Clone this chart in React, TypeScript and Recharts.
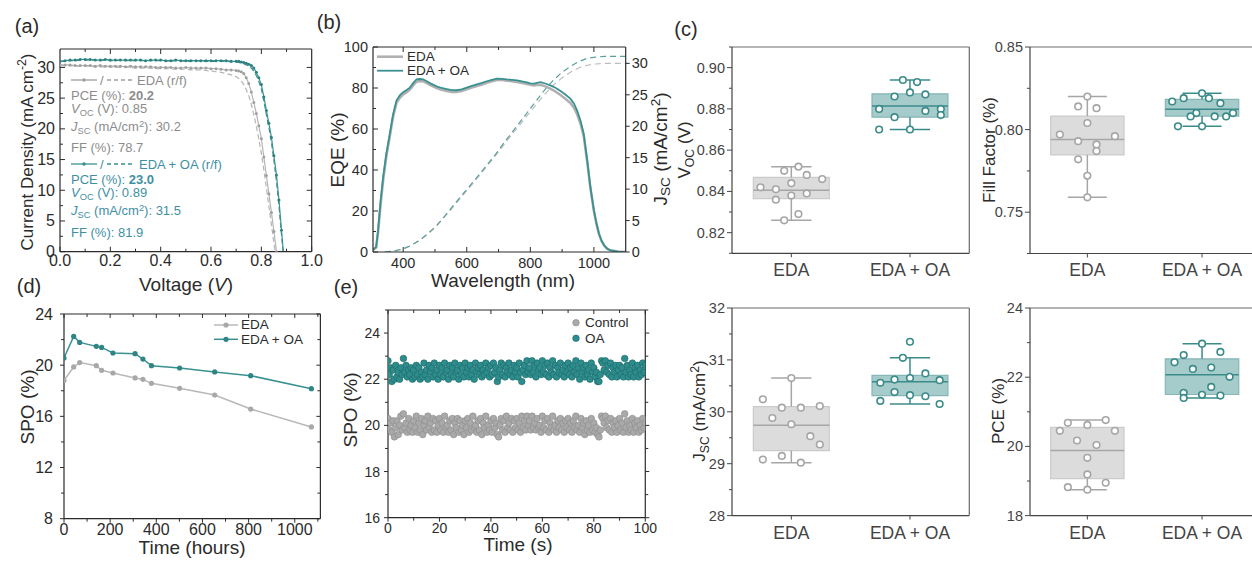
import React from "react";
import {
  LineChart,
  Line,
  ScatterChart,
  Scatter,
  XAxis,
  YAxis,
  ReferenceArea,
  ReferenceLine,
} from "recharts";

// ---------- (a) J-V curves ----------
const vGrid = [
  0, 0.02, 0.04, 0.06, 0.08, 0.1, 0.12, 0.14, 0.16, 0.18, 0.2, 0.22, 0.24, 0.26, 0.28, 0.3, 0.32, 0.34, 0.36, 0.38,
  0.4, 0.42, 0.44, 0.46, 0.48, 0.5, 0.52, 0.54, 0.56, 0.58, 0.6, 0.62, 0.64, 0.66, 0.68, 0.7, 0.71, 0.72, 0.73,
  0.74, 0.75, 0.76, 0.77, 0.78, 0.79, 0.8, 0.81, 0.82, 0.83, 0.84, 0.85, 0.86, 0.87, 0.88, 0.89,
];
const jvEdaRev = [
  30.4, 30.4, 30.4, 30.3, 30.3, 30.3, 30.3, 30.2, 30.3, 30.2, 30.2, 30.2, 30.2, 30.1, 30.2, 30.1, 30.1, 30.1, 30.1, 30.0,
  30.0, 30.0, 30.0, 29.9, 29.9, 30.0, 29.9, 29.9, 29.9, 29.9, 29.8, 29.8, 29.7, 29.6, 29.6, 29.5, 29.4, 29.3, 29.0,
  28.3, 27.4, 26.0, 24.3, 22.5, 20.5, 18.4, 15.4, 12.4, 9.4, 6.4, 3.3, 0, null, null, null,
];
const jvEdaFwd = [
  30.3, 30.3, 30.3, 30.2, 30.2, 30.2, 30.2, 30.1, 30.1, 30.1, 30.1, 30.0, 30.0, 30.0, 30.0, 29.9, 29.9, 29.9, 29.9, 29.8,
  29.8, 29.8, 29.8, 29.7, 29.7, 29.7, 29.6, 29.6, 29.6, 29.5, 29.4, 29.3, 29.2, 29.0, 28.8, 28.5, 28.2, 27.8, 27.2,
  26.4, 25.4, 24.0, 22.3, 20.4, 18.3, 16.0, 13.3, 10.4, 7.4, 4.4, 1.4, -1.6, null, null, null,
];
const jvOaRev = [
  31.0, 31.1, 31.2, 31.2, 31.3, 31.3, 31.3, 31.2, 31.2, 31.3, 31.2, 31.2, 31.2, 31.2, 31.2, 31.2, 31.2, 31.1, 31.2, 31.2,
  31.2, 31.1, 31.1, 31.2, 31.1, 31.1, 31.1, 31.1, 31.1, 31.1, 31.1, 31.1, 31.1, 31.1, 31.0, 31.0, 31.0, 30.9, 30.8,
  30.7, 30.5, 30.3, 29.9, 29.2, 28.3, 27.2, 25.2, 23.0, 20.9, 18.6, 15.6, 12.5, 8.4, 3.5, -1.2,
];
const jvOaFwd = [
  31.0, 31.0, 31.1, 31.1, 31.2, 31.2, 31.2, 31.2, 31.1, 31.2, 31.1, 31.1, 31.2, 31.1, 31.1, 31.1, 31.1, 31.1, 31.1, 31.1,
  31.1, 31.1, 31.0, 31.1, 31.1, 31.0, 31.0, 31.1, 31.0, 31.0, 31.0, 31.0, 31.0, 31.0, 30.9, 30.9, 30.8, 30.7, 30.6,
  30.4, 30.2, 29.9, 29.4, 28.7, 27.7, 26.5, 24.5, 22.3, 20.2, 17.8, 14.8, 11.5, 7.4, 2.8, -1.8,
];

// ---------- (b) EQE + integrated Jsc ----------
const eqeNm = [
  305, 315, 321, 329, 337, 347, 358, 368, 379, 390, 400, 411, 421, 432, 442, 453, 463, 474, 484, 505, 521, 537, 553,
  568, 584, 600, 616, 632, 648, 663, 679, 695, 711, 726, 742, 758, 774, 789, 800, 811, 821, 832, 847, 863, 879, 895,
  910, 926, 937, 947, 958, 968, 979, 989, 1000, 1008, 1016, 1024, 1032, 1042, 1053, 1075, 1100,
];
const eqeOA = [
  1.1, 2.5, 10.6, 25, 36.6, 48, 57.7, 67, 74.0, 76.5, 78.0, 79.0, 80.2, 82.5, 84.2, 84.4, 84.2, 83.3, 82.4, 80.8, 80.0,
  79.5, 79.0, 78.9, 79.3, 80.2, 81.0, 81.8, 82.5, 83.3, 84.0, 84.6, 84.5, 84.2, 84.0, 83.7, 83.2, 82.8, 82.3, 82.1,
  82.5, 82.9, 82.2, 81.3, 80.1, 78.5, 76.8, 74.8, 72.5, 69.1, 64.0, 57.7, 44.7, 31.7, 20.3, 14, 8.9, 5.5, 3.3, 1.6,
  0.8, 0.2, 0,
];
const eqeEDA = [
  1.0, 2.2, 9.8, 23.5, 35.2, 46.8, 56.6, 65.8, 72.8, 75.3, 76.9, 78.0, 79.2, 81.4, 83.1, 83.4, 83.2, 82.4, 81.5, 80.0,
  79.2, 78.6, 78.1, 78.1, 78.5, 79.4, 80.2, 81.0, 81.7, 82.6, 83.3, 83.9, 83.9, 83.6, 83.3, 83.0, 82.5, 82.0, 81.6,
  81.3, 81.5, 81.6, 80.8, 79.7, 78.3, 76.6, 74.8, 72.7, 70.4, 67.3, 62.5, 56.5, 44.0, 31.2, 20.0, 13.8, 8.7, 5.4,
  3.2, 1.5, 0.8, 0.2, 0,
];
const jscNm = [
  342, 370, 400, 427, 453, 479, 505, 532, 558, 584, 611, 637, 663, 690, 716, 742, 768, 795, 821, 847, 874, 900, 926,
  953, 979, 1005, 1032, 1066, 1100,
];
const jscOA = [
  0, 0.15, 0.5, 1.1, 1.9, 3.0, 4.2, 5.8, 7.4, 9.0, 10.6, 12.2, 13.8, 15.5, 17.3, 19.0, 20.7, 22.5, 24.2, 25.9, 27.4,
  28.6, 29.5, 30.3, 30.8, 31.0, 31.1, 31.1, 31.1,
];
const jscEDA = [
  0, 0.15, 0.5, 1.1, 1.9, 2.9, 4.1, 5.7, 7.2, 8.8, 10.4, 12.0, 13.6, 15.3, 17.0, 18.7, 20.3, 22.0, 23.6, 25.2, 26.6,
  27.7, 28.6, 29.3, 29.7, 29.9, 30.0, 30.0, 30.0,
];

// ---------- (c) device statistics ----------
const groups = ["EDA", "EDA + OA"];
// [min, q1, median, q3, max]
const vocBox = [
  [0.826, 0.8365, 0.8406, 0.8468, 0.852],
  [0.87, 0.876, 0.8814, 0.8873, 0.894],
];
const vocEDA = [0.826, 0.829, 0.836, 0.838, 0.841, 0.842, 0.839, 0.844, 0.846, 0.848, 0.85, 0.852];
const vocEDAspread = [-0.06, 0.06, -0.13, 0, -0.13, -0.26, 0.13, 0, 0.26, 0.13, -0.06, 0.06];
const vocOA = [0.894, 0.893, 0.888, 0.886, 0.887, 0.88, 0.879, 0.88, 0.877, 0.876, 0.87, 0.87];
const vocOAspread = [-0.06, 0.06, 0, -0.13, 0.13, -0.26, 0.13, 0.26, 0.26, -0.13, -0.26, 0];

const ffBox = [
  [0.759, 0.7847, 0.794, 0.8082, 0.82],
  [0.802, 0.8082, 0.8123, 0.8183, 0.822],
];
const ffEDA = [0.82, 0.814, 0.813, 0.804, 0.797, 0.796, 0.793, 0.791, 0.787, 0.782, 0.772, 0.759];
const ffEDAspread = [0, -0.08, 0.08, 0, -0.24, 0.24, -0.08, 0.08, 0.08, -0.08, 0, 0];
const ffOA = [0.822, 0.819, 0.819, 0.817, 0.816, 0.81, 0.81, 0.808, 0.808, 0.808, 0.802, 0.802];
const ffOAspread = [0, -0.16, 0.06, -0.26, 0.16, -0.05, 0.27, -0.1, 0.11, 0.21, -0.21, 0];

const jscBox = [
  [29.02, 29.25, 29.74, 30.1, 30.65],
  [30.15, 30.31, 30.58, 30.7, 31.04],
];
const jscEDApts = [30.65, 30.24, 30.08, 30.08, 30.11, 29.88, 29.76, 29.53, 29.37, 29.08, 29.15, 29.02];
const jscEDAspread = [0, -0.24, -0.08, 0.08, 0.24, -0.16, 0, 0.16, 0.24, -0.24, -0.08, 0.08];
const jscOApts = [31.35, 31.04, 30.74, 30.56, 30.62, 30.65, 30.61, 30.38, 30.32, 30.3, 30.21, 30.15];
const jscOAspread = [0, -0.06, 0.13, -0.25, -0.13, 0, 0.25, -0.13, 0, 0.13, -0.25, 0.25];

const pceBox = [
  [18.75, 19.07, 19.88, 20.55, 20.76],
  [21.4, 21.5, 22.07, 22.53, 22.97],
];
const pceEDA = [20.76, 20.68, 20.62, 20.45, 20.45, 20.17, 20.04, 19.67, 19.19, 18.95, 18.82, 18.75];
const pceEDAspread = [0.16, -0.17, 0, -0.24, 0.24, -0.09, 0.08, 0, 0, 0.16, -0.17, 0];
const pceOA = [22.97, 22.64, 22.73, 22.43, 22.24, 22.28, 22.01, 21.72, 21.55, 21.49, 21.47, 21.4];
const pceOAspread = [0, -0.16, 0.16, -0.24, -0.08, 0.08, 0.24, 0.08, -0.16, 0, 0.16, -0.16];

// ---------- (d) stability ----------
const hours = [0, 42, 68, 140, 163, 212, 308, 342, 379, 501, 653, 809, 1072];
const spoEDA = [18.81, 19.86, 20.2, 19.96, 19.6, 19.39, 19.0, 18.89, 18.58, 18.19, 17.67, 16.57, 15.17];
const spoOA = [20.56, 22.25, 21.78, 21.47, 21.39, 20.95, 20.9, 20.48, 19.96, 19.78, 19.47, 19.18, 18.16];

// ---------- (e) SPO tracking, one reading every 0.5 s ----------
const trackControl = [
  20.3, 19.8, 20.1, 19.7, 20.2, 19.5, 19.9, 20.2, 19.6, 20.0, 20.4, 19.8, 20.5, 19.9, 20.1, 19.7, 20.3, 19.8, 20.0, 19.7,
  20.2, 19.9, 20.4, 19.7, 20.1, 19.8, 20.3, 19.6, 20.0, 20.2, 19.8, 20.4, 19.9, 20.1, 19.7, 20.3, 19.8, 20.2, 19.7, 20.0,
  20.3, 19.8, 20.1, 19.7, 20.4, 19.9, 20.0, 19.7, 20.2, 19.8, 20.3, 19.6, 20.1, 19.9, 20.3, 19.7, 20.2, 19.8, 20.0, 19.6,
  20.2, 19.9, 20.3, 19.7, 20.1, 19.8, 20.4, 19.9, 20.0, 19.7, 20.2, 19.8, 20.3, 19.6, 20.1, 19.9, 20.4, 19.7, 20.0, 19.8,
  20.2, 19.7, 20.3, 19.9, 20.1, 19.6, 19.5, 20.0, 20.3, 19.8, 20.2, 19.7, 20.4, 19.9, 20.1, 19.8, 20.3, 19.7, 20.2, 19.9,
  20.3, 19.8, 20.1, 19.7, 20.4, 19.9, 20.2, 19.8, 20.4, 20.0, 20.2, 19.8, 20.4, 19.9, 20.1, 19.8, 20.3, 19.9, 20.0, 19.7,
  20.4, 19.9, 20.2, 19.8, 20.3, 19.7, 20.1, 19.9, 20.4, 19.8, 20.0, 19.7, 20.2, 19.9, 20.3, 19.8, 20.1, 19.7, 20.2, 19.9,
  20.3, 19.8, 20.1, 19.7, 20.2, 19.9, 20.4, 19.8, 20.0, 19.7, 20.3, 19.9, 20.1, 19.6, 20.2, 19.8, 20.0, 19.7, 20.3, 19.8,
  20.1, 19.7, 19.9, 19.6, 19.5, 19.8, 20.4, 20.3, 20.1, 20.4, 19.9, 20.2, 19.8, 20.3, 19.7, 20.1, 19.9, 20.2, 19.7, 20.0,
  20.3, 19.8, 20.1, 19.7, 20.5, 19.9, 20.2, 19.7, 20.0, 19.8, 20.3, 19.7, 20.1, 19.9, 20.2, 19.7, 20.0, 19.8, 20.3, 19.9,
  20.1,
];
const trackOA = [
  22.8, 22.2, 22.5, 21.9, 22.4, 22.0, 22.6, 22.1, 22.3, 22.0, 22.5, 22.2, 22.9, 22.3, 22.6, 22.1, 22.4, 22.2, 22.5, 22.0,
  22.4, 22.1, 22.6, 22.2, 22.5, 22.0, 22.3, 22.1, 22.7, 22.2, 22.4, 22.0, 22.6, 22.3, 22.5, 22.1, 22.7, 22.2, 22.4, 22.0,
  22.6, 22.2, 22.5, 22.1, 22.7, 22.3, 22.4, 22.0, 22.6, 22.2, 22.5, 22.1, 22.7, 22.3, 22.4, 22.0, 22.6, 22.2, 22.5, 22.1,
  22.7, 22.3, 22.5, 22.1, 22.6, 22.2, 22.4, 22.0, 22.7, 22.3, 22.5, 22.2, 22.6, 22.1, 22.4, 22.2, 22.7, 22.3, 22.5, 22.1,
  22.6, 22.2, 22.7, 22.3, 22.5, 21.9, 22.1, 22.4, 22.7, 22.2, 22.6, 22.1, 22.5, 22.3, 22.7, 22.2, 22.4, 22.1, 22.6, 22.3,
  22.5, 22.1, 22.7, 22.3, 21.9, 22.4, 22.6, 22.2, 22.8, 22.3, 22.5, 22.2, 22.8, 22.3, 22.6, 22.1, 22.7, 22.4, 22.5, 22.2,
  22.8, 22.3, 22.6, 22.2, 22.7, 22.1, 22.5, 22.3, 22.8, 22.2, 22.6, 22.1, 22.5, 22.3, 22.7, 22.2, 22.4, 22.1, 22.6, 22.3,
  22.7, 22.2, 22.5, 22.1, 22.6, 22.3, 22.8, 22.2, 22.5, 22.0, 22.7, 22.3, 22.5, 22.1, 22.6, 22.2, 22.4, 22.0, 22.7, 22.3,
  22.5, 22.1, 22.3, 21.9, 21.9, 22.2, 22.8, 22.7, 22.4, 22.8, 22.3, 22.6, 22.2, 22.7, 22.1, 22.5, 22.3, 22.6, 22.1, 22.4,
  22.6, 22.2, 22.5, 22.1, 22.9, 22.3, 22.6, 22.1, 22.4, 22.2, 22.7, 22.1, 22.5, 22.3, 22.6, 22.1, 22.4, 22.2, 22.7, 22.3,
  22.6,
];

// ---------- styling ----------
const FONT = '"Liberation Sans", Arial, Helvetica, sans-serif';
const INK = "#2b2b2b";
const TEAL = "#3a9191";
const TEAL_TXT = "#3f8fa3";
const GREY_LINE = "#b5b5b5";
const GREY_TXT = "#8c8c8c";
const ZERO = { top: 0, right: 0, bottom: 0, left: 0 };

type Pad = { l: number; t: number; r: number; b: number };
type Box = [number, number, number, number];
type Side = "left" | "right" | "top" | "bottom";
type Ax = {
  domain: [number, number];
  major: number[];
  minor?: number[];
  fmt?: (v: number) => string;
  size?: number;
  gap?: number;
  inward?: boolean;
  labels?: boolean;
  len?: number;
  mlen?: number;
  none?: boolean;
};

function tickFn(side: Side, a: Ax, ink: string) {
  return (p: any) => {
    const x = p.x as number;
    const y = p.y as number;
    const v = Number(p.payload?.value);
    const major = a.major.some((m) => Math.abs(m - v) < 1e-6);
    const L = major ? a.len ?? 5 : a.mlen ?? 3;
    const o = a.inward ? -L : L; // positive = outward
    const txt = major && a.labels !== false ? (a.fmt ? a.fmt(v) : String(v)) : null;
    const gap = a.gap ?? 6;
    const fs = a.size ?? 15;
    let ln: React.ReactNode = null;
    let tx: React.ReactNode = null;
    if (side === "left") {
      ln = <line x1={x} y1={y} x2={x - o} y2={y} />;
      if (txt) tx = <text x={x - gap} y={y} textAnchor="end" dominantBaseline="central">{txt}</text>;
    } else if (side === "right") {
      ln = <line x1={x} y1={y} x2={x + o} y2={y} />;
      if (txt) tx = <text x={x + gap} y={y} textAnchor="start" dominantBaseline="central">{txt}</text>;
    } else if (side === "bottom") {
      ln = <line x1={x} y1={y} x2={x} y2={y + o} />;
      if (txt) tx = <text x={x} y={y + gap} textAnchor="middle" dominantBaseline="central">{txt}</text>;
    } else {
      ln = <line x1={x} y1={y} x2={x} y2={y - o} />;
    }
    return (
      <g>
        <g stroke={ink} strokeWidth={1}>{ln}</g>
        <g fill={ink} fontSize={fs}>{tx}</g>
      </g>
    );
  };
}

// bottom/left carry the labels; top/right close the frame with tick marks only
function axes(o: { pad: Pad; x: Ax; y: Ax; top: Ax; right: Ax; xKey?: string; yKey?: string; ink?: string; frame?: string }) {
  const ink = o.ink ?? INK;
  const frame = o.frame ?? ink;
  const base = { type: "number" as const, interval: 0 as const, tickLine: false, tickSize: 0, tickMargin: 0, allowDataOverflow: true };
  const tk = (a: Ax) => (a.none ? undefined : [...a.major, ...(a.minor ?? [])]);
  const tp = (s: Side, a: Ax) => (a.none ? false : tickFn(s, a, ink));
  return [
    <XAxis key="xb" xAxisId={0} dataKey={o.xKey} height={o.pad.b} domain={o.x.domain} ticks={tk(o.x)} tick={tp("bottom", o.x)} axisLine={{ stroke: ink, strokeWidth: 1.2 }} {...base} />,
    <XAxis key="xt" xAxisId="top" orientation="top" dataKey={o.xKey} height={o.pad.t} domain={o.top.domain} ticks={tk(o.top)} tick={tp("top", o.top)} axisLine={{ stroke: frame, strokeWidth: 1.2 }} {...base} />,
    <YAxis key="yl" yAxisId={0} dataKey={o.yKey} width={o.pad.l} domain={o.y.domain} ticks={tk(o.y)} tick={tp("left", o.y)} axisLine={{ stroke: ink, strokeWidth: 1.2 }} {...base} />,
    <YAxis key="yr" yAxisId="right" orientation="right" dataKey={o.yKey} width={o.pad.r} domain={o.right.domain} ticks={tk(o.right)} tick={tp("right", o.right)} axisLine={{ stroke: frame, strokeWidth: 1.2 }} {...base} />,
  ];
}

function Frame({ box, pad, children }: { box: Box; pad: Pad; children: (w: number, h: number) => React.ReactNode }) {
  const w = box[2] - box[0] + pad.l + pad.r;
  const h = box[3] - box[1] + pad.t + pad.b;
  return (
    <div style={{ position: "absolute", left: box[0] - pad.l, top: box[1] - pad.t, width: w, height: h }}>
      {children(w, h)}
    </div>
  );
}

function Tx({ x, y, s = 18, rot, a = "c", c = INK, children }: { x: number; y: number; s?: number; rot?: boolean; a?: "c" | "s"; c?: string; children: React.ReactNode }) {
  const tx = a === "c" ? "-50%" : "0%";
  return (
    <div
      style={{
        position: "absolute",
        left: x,
        top: y,
        fontSize: s,
        color: c,
        lineHeight: 1,
        whiteSpace: "nowrap",
        transform: `translate(${tx}, -50%)` + (rot ? " rotate(-90deg)" : ""),
      }}
    >
      {children}
    </div>
  );
}
const Sub = ({ children }: { children: React.ReactNode }) => <span style={{ fontSize: "0.72em", verticalAlign: "-0.28em" }}>{children}</span>;
const Sup = ({ children }: { children: React.ReactNode }) => <span style={{ fontSize: "0.72em", verticalAlign: "0.5em" }}>{children}</span>;

// small filled marker that skips points without a value
const marker = (fill: string) => (p: any) =>
  p.value != null && Number.isFinite(p.cx) && Number.isFinite(p.cy) ? (
    <circle key={`m${p.index}`} cx={p.cx} cy={p.cy} r={1.5} fill={fill} />
  ) : (
    <g key={`m${p.index}`} />
  );

// ---------- panels ----------
function PanelA() {
  const rows = vGrid.map((v, i) => ({ v, er: jvEdaRev[i], ef: jvEdaFwd[i], or: jvOaRev[i], of: jvOaFwd[i] }));
  const pad = { l: 50, t: 10, r: 20, b: 25 };
  const x: Ax = { domain: [0, 1], major: [0, 0.2, 0.4, 0.6, 0.8, 1], minor: [0.1, 0.3, 0.5, 0.7, 0.9], fmt: (v) => v.toFixed(1), size: 16, gap: 9, inward: true };
  const y: Ax = { domain: [0, 33], major: [0, 5, 10, 15, 20, 25, 30], minor: [2.5, 7.5, 12.5, 17.5, 22.5, 27.5], size: 16, gap: 5, inward: true };
  const top: Ax = { domain: [0, 1], major: [0.2, 0.4, 0.6, 0.8], minor: [0.1, 0.3, 0.5, 0.7, 0.9], labels: false, inward: true };
  const right: Ax = { domain: [0, 33], major: [5, 10, 15, 20, 25, 30], minor: [2.5, 7.5, 12.5, 17.5, 22.5, 27.5], labels: false, inward: true };
  return (
    <Frame box={[60, 49, 311.7, 251.7]} pad={pad}>
      {(w, h) => (
        <LineChart width={w} height={h} data={rows} margin={ZERO}>
          {axes({ pad, x, y, top, right, xKey: "v" })}
          <Line dataKey="ef" stroke={GREY_LINE} strokeWidth={1.2} strokeDasharray="5 3" dot={false} activeDot={false} isAnimationActive={false} />
          <Line dataKey="of" stroke={TEAL} strokeWidth={1.2} strokeDasharray="5 3" dot={false} activeDot={false} isAnimationActive={false} />
          <Line dataKey="er" stroke={GREY_LINE} strokeWidth={1.2} dot={marker("#a0a0a0")} activeDot={false} isAnimationActive={false} />
          <Line dataKey="or" stroke={TEAL} strokeWidth={1.2} dot={marker("#2f8080")} activeDot={false} isAnimationActive={false} />
        </LineChart>
      )}
    </Frame>
  );
}

function JvKey({ x, y, color, txt }: { x: number; y: number; color: string; txt: string }) {
  return (
    <svg style={{ position: "absolute", left: x, top: y - 7 }} width={66} height={14}>
      <line x1={0} y1={7} x2={26} y2={7} stroke={color} strokeWidth={1.3} />
      <circle cx={13} cy={7} r={1.8} fill={color} />
      <text x={29} y={7} dominantBaseline="central" fontSize={13} fill={txt}>/</text>
      <line x1={36} y1={7} x2={63} y2={7} stroke={color} strokeWidth={1.3} strokeDasharray="4 3" />
    </svg>
  );
}

function PanelB() {
  const rows = [
    ...eqeNm.map((nm, i) => ({ nm, qEda: eqeEDA[i], qOa: eqeOA[i] })),
    ...jscNm.map((nm, i) => ({ nm, jEda: jscEDA[i], jOa: jscOA[i] })),
  ].sort((a, b) => a.nm - b.nm);
  const pad = { l: 50, t: 10, r: 30, b: 25 };
  const x: Ax = { domain: [305, 1100], major: [400, 600, 800, 1000], minor: [500, 700, 900], size: 14.5, gap: 11, inward: true };
  const y: Ax = { domain: [0, 100], major: [0, 20, 40, 60, 80, 100], minor: [10, 30, 50, 70, 90], size: 14.5, gap: 5, inward: true };
  const r: Ax = { domain: [0, 32.6], major: [0, 5, 10, 15, 20, 25, 30], size: 14.5, gap: 6, len: 4 };
  return (
    <Frame box={[373.3, 46.7, 626, 251.7]} pad={pad}>
      {(w, h) => (
        <LineChart width={w} height={h} data={rows} margin={ZERO}>
          {axes({ pad, x, y, top: { ...x, labels: false }, right: r, xKey: "nm" })}
          <Line yAxisId="right" dataKey="jEda" stroke="#bdbdbd" strokeWidth={1.2} strokeDasharray="6 4" dot={false} connectNulls isAnimationActive={false} />
          <Line yAxisId="right" dataKey="jOa" stroke="#5a9e9e" strokeWidth={1.2} strokeDasharray="6 4" dot={false} connectNulls isAnimationActive={false} />
          <Line dataKey="qEda" stroke="#b0b0b0" strokeWidth={2.6} dot={false} connectNulls isAnimationActive={false} />
          <Line dataKey="qOa" stroke={TEAL} strokeWidth={1.8} dot={false} connectNulls isAnimationActive={false} />
        </LineChart>
      )}
    </Frame>
  );
}

const BOX_HALF = 0.32;
const CAP_HALF = 0.17;
const GROUP_STYLE = [
  { fill: "#dcdcdc", edge: "#cbcbcb", line: "#a6a6a6", pt: "#a6a6a6" },
  { fill: "#a6cbcb", edge: "#86b6b6", line: "#3b8b8b", pt: "#3b8b8b" },
];

function BoxPanel({ box, yDomain, yMajor, yMinor, fmt, stats, pts }: {
  box: Box;
  yDomain: [number, number];
  yMajor: number[];
  yMinor: number[];
  fmt: (v: number) => string;
  stats: number[][];
  pts: { vals: number[]; spread: number[] }[];
}) {
  const pad = { l: 45, t: 8, r: 8, b: 30 };
  const x: Ax = { domain: [0, 2], major: [0.5, 1.5], fmt: (v) => groups[Math.round(v - 0.5)], size: 17.5, gap: 17, len: 4 };
  const y: Ax = { domain: yDomain, major: yMajor, minor: yMinor, fmt, size: 14.5, gap: 7, len: 5, mlen: 3 };
  const none: Ax = { domain: [0, 1], major: [], none: true };
  return (
    <Frame box={box} pad={pad}>
      {(w, h) => (
        <ScatterChart width={w} height={h} margin={ZERO}>
          {axes({
            pad, x, y,
            top: { ...none, domain: [0, 2] },
            right: { ...none, domain: yDomain },
            xKey: "x", yKey: "y", ink: "#444", frame: "#6a6a6a",
          })}
          {stats.map((s, g) => {
            const c = g + 0.5;
            const st = GROUP_STYLE[g];
            return [
              <ReferenceArea key={`a${g}`} x1={c - BOX_HALF} x2={c + BOX_HALF} y1={s[1]} y2={s[3]} fill={st.fill} fillOpacity={1} stroke={st.edge} strokeWidth={1.2} />,
              <ReferenceLine key={`m${g}`} segment={[{ x: c - BOX_HALF, y: s[2] }, { x: c + BOX_HALF, y: s[2] }]} stroke={st.line} strokeWidth={1.5} />,
              <ReferenceLine key={`u${g}`} segment={[{ x: c, y: s[3] }, { x: c, y: s[4] }]} stroke={st.line} strokeWidth={1.5} />,
              <ReferenceLine key={`d${g}`} segment={[{ x: c, y: s[0] }, { x: c, y: s[1] }]} stroke={st.line} strokeWidth={1.5} />,
              <ReferenceLine key={`t${g}`} segment={[{ x: c - CAP_HALF, y: s[4] }, { x: c + CAP_HALF, y: s[4] }]} stroke={st.line} strokeWidth={1.5} />,
              <ReferenceLine key={`b${g}`} segment={[{ x: c - CAP_HALF, y: s[0] }, { x: c + CAP_HALF, y: s[0] }]} stroke={st.line} strokeWidth={1.5} />,
            ];
          })}
          {pts.map((p, g) => (
            <Scatter
              key={`s${g}`}
              data={p.vals.map((v, i) => ({ x: g + 0.5 + p.spread[i], y: v }))}
              isAnimationActive={false}
              shape={(q: any) => <circle cx={q.cx} cy={q.cy} r={3.3} fill="#fff" stroke={GROUP_STYLE[g].pt} strokeWidth={1.6} />}
            />
          ))}
        </ScatterChart>
      )}
    </Frame>
  );
}

function PanelC() {
  return (
    <>
      <BoxPanel
        box={[732, 46.7, 969.3, 253]}
        yDomain={[0.81, 0.91]}
        yMajor={[0.82, 0.84, 0.86, 0.88, 0.9]}
        yMinor={[0.81, 0.83, 0.85, 0.87, 0.89, 0.91]}
        fmt={(v) => v.toFixed(2)}
        stats={vocBox}
        pts={[{ vals: vocEDA, spread: vocEDAspread }, { vals: vocOA, spread: vocOAspread }]}
      />
      <BoxPanel
        box={[1030, 46.5, 1259.4, 253]}
        yDomain={[0.725, 0.85]}
        yMajor={[0.75, 0.8, 0.85]}
        yMinor={[0.725, 0.775, 0.825]}
        fmt={(v) => v.toFixed(2)}
        stats={ffBox}
        pts={[{ vals: ffEDA, spread: ffEDAspread }, { vals: ffOA, spread: ffOAspread }]}
      />
      <BoxPanel
        box={[732, 307.7, 969.3, 515.3]}
        yDomain={[28, 32]}
        yMajor={[28, 29, 30, 31, 32]}
        yMinor={[28.5, 29.5, 30.5, 31.5]}
        fmt={(v) => String(v)}
        stats={jscBox}
        pts={[{ vals: jscEDApts, spread: jscEDAspread }, { vals: jscOApts, spread: jscOAspread }]}
      />
      <BoxPanel
        box={[1030, 307.7, 1259.4, 515.3]}
        yDomain={[18, 24]}
        yMajor={[18, 20, 22, 24]}
        yMinor={[19, 21, 23]}
        fmt={(v) => String(v)}
        stats={pceBox}
        pts={[{ vals: pceEDA, spread: pceEDAspread }, { vals: pceOA, spread: pceOAspread }]}
      />
    </>
  );
}

function PanelD() {
  const rows = hours.map((h, i) => ({ h, eda: spoEDA[i], oa: spoOA[i] }));
  const pad = { l: 55, t: 8, r: 12, b: 25 };
  const x: Ax = { domain: [0, 1111], major: [0, 200, 400, 600, 800, 1000], minor: [100, 300, 500, 700, 900, 1100], size: 16, gap: 11, len: 4 };
  const y: Ax = { domain: [8, 24], major: [8, 12, 16, 20, 24], minor: [10, 14, 18, 22], size: 16, gap: 11, len: 4 };
  return (
    <Frame box={[64.3, 314.3, 320.7, 519]} pad={pad}>
      {(w, h) => (
        <LineChart width={w} height={h} data={rows} margin={ZERO}>
          {axes({ pad, x, y, top: { ...x, labels: false, inward: true }, right: { ...y, labels: false, inward: true }, xKey: "h" })}
          <Line dataKey="eda" stroke="#b8b8b8" strokeWidth={1.5} dot={{ r: 2.6, fill: "#a8a8a8", stroke: "none" }} isAnimationActive={false} />
          <Line dataKey="oa" stroke={TEAL} strokeWidth={1.5} dot={{ r: 2.6, fill: "#2f8484", stroke: "none" }} isAnimationActive={false} />
        </LineChart>
      )}
    </Frame>
  );
}

function PanelE() {
  const ctl = trackControl.map((v, i) => ({ x: i * 0.5, y: v }));
  const oa = trackOA.map((v, i) => ({ x: i * 0.5, y: v }));
  const pad = { l: 50, t: 8, r: 22, b: 25 };
  const x: Ax = { domain: [0, 100], major: [0, 20, 40, 60, 80, 100], minor: [10, 30, 50, 70, 90], size: 14, gap: 10, len: 4 };
  const y: Ax = { domain: [16, 25], major: [16, 18, 20, 22, 24], minor: [17, 19, 21, 23, 25], size: 14, gap: 8, len: 4 };
  return (
    <Frame box={[387.7, 310, 645, 517.7]} pad={pad}>
      {(w, h) => (
        <ScatterChart width={w} height={h} margin={ZERO}>
          {axes({ pad, x, y, top: { ...x, labels: false, inward: true }, right: { ...y, labels: false }, xKey: "x", yKey: "y" })}
          <Scatter data={ctl} isAnimationActive={false} shape={(q: any) => <circle cx={q.cx} cy={q.cy} r={3.3} fill="#a9a9a9" stroke="#8b8b8b" strokeWidth={0.6} />} />
          <Scatter data={oa} isAnimationActive={false} shape={(q: any) => <circle cx={q.cx} cy={q.cy} r={3.3} fill="#2e8c8c" stroke="#1d6868" strokeWidth={0.6} />} />
        </ScatterChart>
      )}
    </Frame>
  );
}

export default function App() {
  return (
    <div
      style={{
        position: "absolute",
        left: 0,
        top: 0,
        width: 1252,
        height: 561,
        overflow: "hidden",
        background: "#fff",
        fontFamily: FONT,
        color: INK,
      }}
    >
      <PanelA />
      <PanelB />
      <PanelC />
      <PanelD />
      <PanelE />

      {/* panel letters */}
      <Tx x={27} y={26} s={20}>(a)</Tx>
      <Tx x={329} y={22} s={20}>(b)</Tx>
      <Tx x={686} y={29} s={20}>(c)</Tx>
      <Tx x={29} y={286} s={20}>(d)</Tx>
      <Tx x={346} y={287} s={20}>(e)</Tx>

      {/* (a) titles + key */}
      <Tx x={26} y={152} s={17} rot>Current Density (mA cm<Sup>-2</Sup>)</Tx>
      <Tx x={186} y={284} s={19}>Voltage (<i>V</i>)</Tx>
      <JvKey x={71} y={80} color="#9e9e9e" txt={GREY_TXT} />
      <Tx x={137} y={80} s={13} a="s" c={GREY_TXT}>EDA (r/f)</Tx>
      <Tx x={71} y={95} s={13} a="s" c={GREY_TXT}>PCE (%): <b>20.2</b></Tx>
      <Tx x={71} y={110} s={13} a="s" c={GREY_TXT}><i>V</i><Sub>OC</Sub> (V): 0.85</Tx>
      <Tx x={71} y={128} s={13} a="s" c={GREY_TXT}><i>J</i><Sub>SC</Sub> (mA/cm<Sup>2</Sup>): 30.2</Tx>
      <Tx x={71} y={147} s={13} a="s" c={GREY_TXT}>FF (%): 78.7</Tx>
      <JvKey x={71} y={164} color={TEAL} txt={TEAL_TXT} />
      <Tx x={139} y={164} s={13} a="s" c={TEAL_TXT}>EDA + OA (r/f)</Tx>
      <Tx x={71} y={179} s={13} a="s" c={TEAL_TXT}>PCE (%): <b>23.0</b></Tx>
      <Tx x={71} y={194} s={13} a="s" c={TEAL_TXT}><i>V</i><Sub>OC</Sub> (V): 0.89</Tx>
      <Tx x={71} y={212} s={13} a="s" c={TEAL_TXT}><i>J</i><Sub>SC</Sub> (mA/cm<Sup>2</Sup>): 31.5</Tx>
      <Tx x={71} y={232} s={13} a="s" c={TEAL_TXT}>FF (%): 81.9</Tx>

      {/* (b) titles + key */}
      <Tx x={337} y={150} s={19} rot>EQE (%)</Tx>
      <Tx x={503} y={280} s={19}>Wavelength (nm)</Tx>
      <Tx x={661} y={149} s={19} rot>J<Sub>SC</Sub> (mA/cm<Sup>2</Sup>)</Tx>
      <svg style={{ position: "absolute", left: 377, top: 50 }} width={28} height={28}>
        <line x1={0} y1={6.7} x2={26} y2={6.7} stroke="#b0b0b0" strokeWidth={2.6} />
        <line x1={0} y1={20.7} x2={26} y2={20.7} stroke={TEAL} strokeWidth={1.8} />
      </svg>
      <Tx x={407} y={57} s={13.5} a="s">EDA</Tx>
      <Tx x={407} y={71} s={13.5} a="s">EDA + OA</Tx>

      {/* (c) titles */}
      <Tx x={686} y={150} s={17} rot>V<Sub>OC</Sub> (V)</Tx>
      <Tx x={989} y={150} s={17} rot>Fill Factor (%)</Tx>
      <Tx x={700} y={411} s={17} rot>J<Sub>SC</Sub> (mA/cm<Sup>2</Sup>)</Tx>
      <Tx x={998} y={411} s={17} rot>PCE (%)</Tx>

      {/* (d) titles + key */}
      <Tx x={27} y={407} s={19} rot>SPO (%)</Tx>
      <Tx x={192} y={547} s={19}>Time (hours)</Tx>
      <svg style={{ position: "absolute", left: 214, top: 318 }} width={26} height={28}>
        <line x1={0} y1={7} x2={24} y2={7} stroke="#b8b8b8" strokeWidth={1.5} />
        <circle cx={12} cy={7} r={2.6} fill="#a8a8a8" />
        <line x1={0} y1={21.3} x2={24} y2={21.3} stroke={TEAL} strokeWidth={1.5} />
        <circle cx={12} cy={21.3} r={2.6} fill="#2f8484" />
      </svg>
      <Tx x={241} y={325} s={13.5} a="s">EDA</Tx>
      <Tx x={241} y={339.5} s={13.5} a="s">EDA + OA</Tx>

      {/* (e) titles + key */}
      <Tx x={350} y={410} s={19} rot>SPO (%)</Tx>
      <Tx x={518} y={544} s={19}>Time (s)</Tx>
      <svg style={{ position: "absolute", left: 571, top: 316 }} width={12} height={30}>
        <circle cx={5} cy={6.7} r={3.3} fill="#a9a9a9" stroke="#8b8b8b" strokeWidth={0.6} />
        <circle cx={5} cy={22.3} r={3.3} fill="#2e8c8c" stroke="#1d6868" strokeWidth={0.6} />
      </svg>
      <Tx x={585} y={323} s={13.5} a="s">Control</Tx>
      <Tx x={585} y={338.5} s={13.5} a="s">OA</Tx>
    </div>
  );
}
